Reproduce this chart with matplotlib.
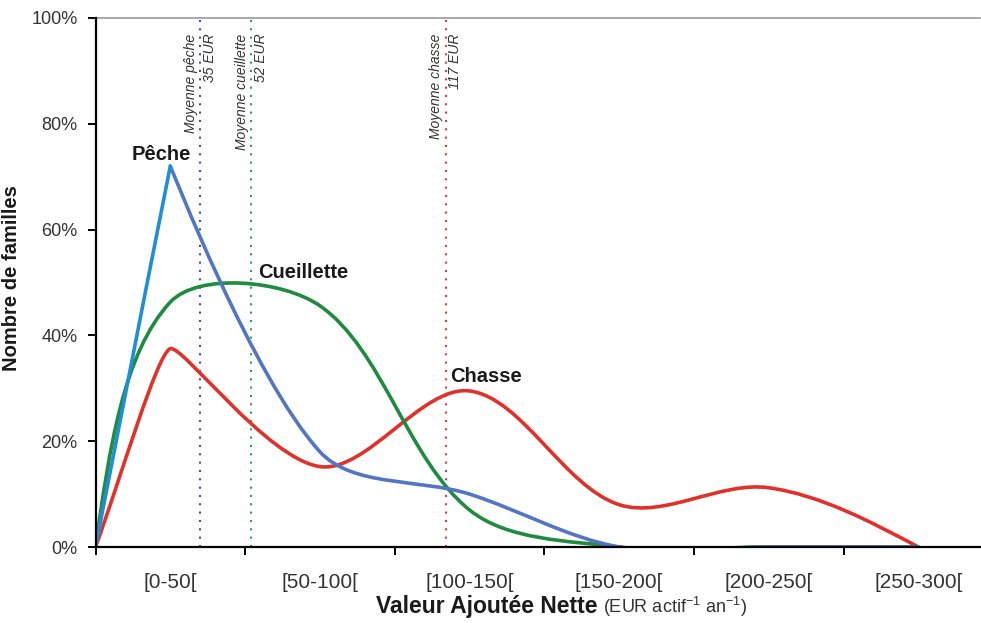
import numpy as np
import matplotlib
matplotlib.use("Agg")
import matplotlib.pyplot as plt
from matplotlib.path import Path
from matplotlib.patches import PathPatch

# category centres (EUR actif-1 an-1), origin point included
x_values = [0, 25, 75, 125, 175, 225, 275]
categories = ["[0-50[", "[50-100[", "[100-150[", "[150-200[", "[200-250[", "[250-300["]
cat_centres = [25, 75, 125, 175, 225, 275]

# share of families (%)
peche = [0, 72, 18, 10, 0, 0, 0]
cueillette = [0, 46.3, 45.6, 7, 0, 0, 0]
chasse = [0, 37.5, 15.2, 29.5, 8, 11.2, 0]

# means (EUR)
mean_labels = ["Moyenne pêche\n35 EUR", "Moyenne cueillette\n52 EUR", "Moyenne chasse\n117 EUR"]
mean_values = [35, 52, 117]
mean_colors = ["#4b4b9c", "#2f9a6a", "#d9403a"]

plt.rcParams["font.family"] = ["Liberation Sans", "DejaVu Sans"]

fig = plt.figure(figsize=(9.81, 6.23), dpi=100)
ax = fig.add_axes([95.5 / 981, 1 - 547 / 623, (980 - 95.5) / 981, (547 - 18) / 623])
ax.set_xlim(0, 295.6)
ax.set_ylim(0, 100)


def smooth_segments(xs, ys):
    # excel-like smoothed line: bezier pieces built in screen space,
    # tangents shortened where the line turns sharply, softened ends
    pts = ax.transData.transform(np.column_stack([xs, ys]))
    n = len(pts)
    tang = [np.zeros(2)] * n
    fac = [1.0] * n
    for i in range(1, n - 1):
        a, p, b = pts[i - 1], pts[i], pts[i + 1]
        u, v = p - a, b - p
        nu, nv = np.hypot(*u), np.hypot(*v)
        t = (b - a) / (nu + nv)
        if nu and nv:
            c = np.dot(u, v) / (nu * nv)
            fac[i] = min(1.0, max(0.0, 1 + c)) ** 3
            t = t * fac[i]
        tang[i] = t
    segs = []
    inv = ax.transData.inverted()
    for i in range(n - 1):
        p1, p2 = pts[i], pts[i + 1]
        L = np.hypot(*(p2 - p1))
        if i == 0:
            w = fac[1] ** 2
            straight = p1 + (p2 - p1) / 3
            natural = p1 + (p2 - p1) / 2 - tang[1] * L / 6
            c1 = straight + w * (natural - straight)
        else:
            c1 = p1 + tang[i] * L / 3
        if i == n - 2:
            w = fac[i] ** 2
            straight = p2 - (p2 - p1) / 3
            natural = p2 - (p2 - p1) / 2 + tang[i] * L / 6
            c2 = straight + w * (natural - straight)
        else:
            c2 = p2 - tang[i + 1] * L / 3
        segs.append(inv.transform(np.array([p1, c1, c2, p2])))
    return segs


def draw_curve(segs, color, lw=2.6, z=3):
    verts = [segs[0][0]]
    codes = [Path.MOVETO]
    for s in segs:
        verts += list(s[1:])
        codes += [Path.CURVE4] * 3
    ax.add_patch(PathPatch(Path(verts, codes), fill=False, edgecolor=color,
                           lw=lw, capstyle="round", joinstyle="round", zorder=z))


# mean lines
for val, lab, col in zip(mean_values, mean_labels, mean_colors):
    ax.axvline(val, color=col, lw=1.5, ls=(0, (1, 3)), zorder=2)
    ax.text(val, 97, lab, rotation=90, ha="center", va="top", multialignment="right",
            fontsize=10, style="italic", color="#333333", linespacing=1.45, zorder=4)

draw_curve(smooth_segments(x_values, chasse), "#e0322b")
draw_curve(smooth_segments(x_values, cueillette), "#1f8b3f")
seg_p = smooth_segments(x_values, peche)
draw_curve(seg_p[1:], "#5276c4", z=3.2)
draw_curve(seg_p[:1], "#1e8fd6", z=3.2)

lab_kw = dict(ha="center", va="baseline", fontsize=14.5, fontweight="bold", color="#1a1a1a")
ax.text(22, 73.2, "Pêche", **lab_kw)
ax.text(69.3, 50.9, "Cueillette", **lab_kw)
ax.text(130.5, 31.2, "Chasse", **lab_kw)

# axes styling
ax.spines["right"].set_visible(False)
ax.spines["top"].set_color("#9a9a9a")
ax.spines["top"].set_linewidth(1.2)
ax.spines["left"].set_linewidth(1.6)
ax.spines["bottom"].set_linewidth(1.6)
ax.spines["left"].set_zorder(5)
ax.spines["bottom"].set_zorder(5)

ax.set_yticks(np.arange(0, 101, 20))
ax.set_yticklabels([f"{v}%" for v in range(0, 101, 20)])
ax.tick_params(axis="y", direction="out", length=6, width=1.4, pad=7,
               labelsize=13, labelcolor="#333333")
ax.set_xticks(np.arange(0, 251, 50))
ax.set_xticklabels([])
ax.tick_params(axis="x", which="major", direction="out", length=6, width=1.4)
ax.set_xticks(cat_centres, minor=True)
ax.set_xticklabels(categories, minor=True)
ax.tick_params(axis="x", which="minor", length=0, pad=19, labelsize=15, labelcolor="#333333")

ax.set_ylabel("Nombre de familles", fontsize=14.5, fontweight="bold", color="#1a1a1a")
ax.yaxis.set_label_coords((21 - 95.5) / 884.5, (547 - 278) / 529)
fig.text(597 / 981, 1 - 607 / 623, "Valeur Ajoutée Nette", ha="right", va="center",
         fontsize=16.5, fontweight="bold", color="#1a1a1a")
fig.text(603 / 981, 1 - 607 / 623, r"(EUR actif$^{\mathregular{-1}}$ an$^{\mathregular{-1}}$)",
         ha="left", va="center", fontsize=13, color="#333333")

fig.savefig("out.png", dpi=100)
